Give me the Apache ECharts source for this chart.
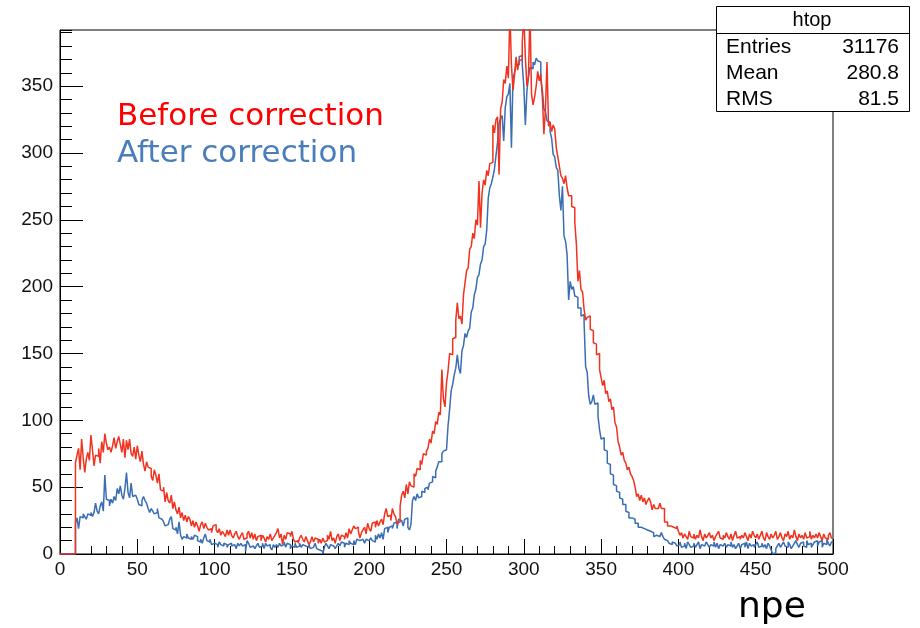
<!DOCTYPE html>
<html>
<head>
<meta charset="utf-8">
<script src="https://cdn.jsdelivr.net/npm/echarts@6/dist/echarts.min.js"></script>
<style>html,body{margin:0;padding:0;background:#fff}#c{width:920px;height:628px}</style>
</head>
<body>
<div id="c"></div>
<script>
// histogram: 500 bins of width 1 npe, bin i covers [i, i+1)
const binStart = 0;
const binWidth = 1;
const xTicks = [0, 50, 100, 150, 200, 250, 300, 350, 400, 450, 500];
const yTicks = [0, 50, 100, 150, 200, 250, 300, 350];
const statsLabels = ['Entries', 'Mean', 'RMS'];
const statsValues = ['31176', '280.8', '81.5'];
const histName = 'htop';

const beforeCorrection = [
  0,0,0,0,0,0,0,0,0,0,
  68,74,79,63,86,72,61,71,76,70,
  89,78,66,74,73,79,68,84,76,90,
  83,78,80,76,81,87,79,84,88,82,
  76,86,72,85,78,86,75,73,80,71,
  81,74,69,77,67,62,69,65,64,58,
  55,63,59,53,60,48,47,50,39,46,
  40,38,44,34,39,33,30,35,27,31,
  25,29,24,28,26,21,25,20,24,21,
  17,22,24,19,23,20,18,19,16,21,
  22,18,16,19,14,17,15,13,18,14,
  18,14,12,15,17,13,11,14,16,11,
  12,15,17,12,16,11,15,10,13,14,
  10,14,12,9,13,11,15,10,12,14,
  16,19,12,15,7,14,11,16,15,13,
  17,11,9,10,8,12,14,11,9,13,
  10,7,9,13,9,12,11,8,11,8,
  12,9,10,14,11,17,10,12,8,13,
  15,10,14,13,11,16,12,19,15,18,
  21,19,20,17,12,16,18,20,15,23,
  19,17,23,24,20,25,21,24,26,22,
  30,34,28,29,25,34,30,28,23,24,
  36,44,47,42,52,45,54,51,50,60,
  58,64,63,70,67,75,74,77,79,86,
  83,92,90,99,97,106,104,138,116,110,
  128,137,150,149,161,162,175,188,176,178,
  172,194,203,212,214,228,230,240,236,250,
  246,279,244,270,280,276,287,283,292,293,
  321,315,325,327,284,333,338,355,352,365,
  356,405,366,347,358,372,362,369,370,383,
  403,372,350,357,405,344,336,342,350,361,
  354,359,342,314,333,368,320,323,316,321,
  318,304,297,290,283,281,277,283,274,268,
  268,260,259,248,232,204,212,198,196,183,
  175,177,178,168,167,158,157,149,150,138,
  132,126,130,120,122,114,116,108,110,98,
  95,84,80,74,76,70,68,63,65,60,
  58,55,50,43,45,40,44,39,42,37,
  40,42,39,33,37,34,34,33,38,34,
  34,24,24,21,21,20,20,19,19,21,
  17,14,16,12,15,13,11,17,13,12,
  15,11,14,12,18,13,10,15,12,14,
  16,12,14,10,13,15,17,12,11,14,
  12,16,13,11,15,10,14,17,12,13,
  11,14,12,16,13,10,15,12,17,14,
  12,15,11,14,17,12,10,16,13,11,
  15,12,14,17,11,13,16,12,10,15,
  13,17,11,14,12,18,13,10,15,12,
  14,11,16,12,13,17,11,14,12,15,
  12,16,13,10,15,12,11,14,16,12
];

const afterCorrection = [
  0,0,0,0,0,0,0,0,0,0,
  23,27,19,28,27,30,28,26,30,29,
  31,28,31,38,32,30,36,39,32,59,
  41,40,36,41,38,43,40,49,45,51,
  44,41,49,61,46,42,53,43,44,45,
  41,37,36,40,43,40,38,34,31,34,
  32,30,31,34,27,26,27,24,21,22,
  22,26,28,19,18,20,15,24,14,11,
  13,12,15,12,11,13,11,14,13,10,
  9,11,8,12,15,10,9,11,7,8,
  9,7,5,9,7,6,8,7,5,7,
  8,6,7,7,4,8,6,8,6,7,
  2,10,8,5,6,7,4,6,8,5,
  6,8,4,8,6,7,5,3,7,5,
  7,5,8,6,7,9,5,8,7,4,
  6,5,8,5,6,8,5,7,6,7,
  5,7,4,5,6,8,4,3,4,2,
  0,5,8,6,4,7,6,5,4,6,
  8,6,9,8,5,8,7,10,8,7,
  10,7,11,10,9,11,12,8,11,10,
  11,12,10,9,14,11,15,12,16,11,
  19,20,16,20,21,19,23,24,19,26,
  25,24,21,26,27,20,18,22,40,43,
  40,45,42,43,47,46,49,50,48,53,
  54,58,57,62,65,69,69,75,77,78,
  79,96,108,122,127,134,139,149,139,135,
  152,156,165,162,167,169,181,184,194,198,
  207,209,217,220,230,232,242,266,274,277,
  282,288,298,308,322,326,328,309,334,342,
  344,352,304,356,360,366,366,372,373,366,
  350,321,346,357,364,363,368,366,371,369,
  368,355,347,333,331,324,323,316,311,299,
  297,289,287,268,257,275,238,234,224,190,
  204,198,200,193,192,184,184,178,179,173,
  140,136,118,112,114,119,112,113,103,93,
  86,87,78,77,68,67,60,59,52,51,
  47,46,42,41,37,37,32,31,27,27,
  26,26,23,23,20,20,19,19,18,18,
  17,17,16,16,13,14,13,13,14,16,
  13,11,10,9,8,7,9,8,7,6,
  7,9,5,6,8,4,9,7,5,6,
  8,5,7,9,4,7,6,5,9,7,
  5,7,6,9,5,8,4,7,6,5,
  8,5,7,6,9,5,7,4,6,8,
  4,7,8,5,9,4,8,6,7,5,
  7,9,5,6,8,5,7,4,8,6,
  3,0,1,4,6,8,5,7,9,6,
  5,9,7,4,6,8,10,7,5,8,
  9,6,5,10,7,8,5,7,9,10,
  6,9,10,5,8,7,11,8,6,9
];

function toSteps(vals) {
  const pts = vals.map((v, i) => [binStart + i * binWidth, v]);
  pts.push([binStart + vals.length * binWidth, vals[vals.length - 1]]);
  return pts;
}

const xMin = xTicks[0], xMax = xTicks[xTicks.length - 1];
const yMax = 392;
const labelFont = 'Liberation Sans';
const legendFont = '"DejaVu Sans"';

const chart = echarts.init(document.getElementById('c'), null, {renderer: 'canvas'});
chart.setOption({
  animation: false,
  backgroundColor: '#ffffff',
  grid: {left: 60, right: 87, top: 30, bottom: 74, show: true, borderColor: '#000', borderWidth: 1, backgroundColor: 'transparent'},
  xAxis: {
    type: 'value', min: xMin, max: xMax, interval: 50,
    axisLine: {show: true, lineStyle: {color: '#000', width: 1}},
    axisTick: {show: true, inside: true, length: 15, lineStyle: {color: '#000', width: 1}},
    minorTick: {show: true, splitNumber: 5, length: 8, lineStyle: {color: '#000', width: 1}},
    splitLine: {show: false},
    axisLabel: {color: '#111', fontFamily: labelFont, fontSize: 19, margin: 6,
      formatter: v => (xTicks.indexOf(v) >= 0 ? String(v) : '')}
  },
  yAxis: [{
    type: 'value', min: 0, max: yMax, interval: 50, position: 'left',
    axisLine: {show: true, lineStyle: {color: '#000', width: 1}},
    axisTick: {show: true, inside: true, length: 23, lineStyle: {color: '#000', width: 1}},
    minorTick: {show: false},
    splitLine: {show: false},
    axisLabel: {color: '#111', fontFamily: labelFont, fontSize: 19, margin: 7, showMaxLabel: false,
      formatter: v => (yTicks.indexOf(v) >= 0 ? String(v) : '')}
  }, {
    type: 'value', min: 0, max: yMax, interval: 10, position: 'left', offset: 0,
    axisLine: {show: false},
    axisTick: {show: true, inside: true, length: 12, lineStyle: {color: '#000', width: 1}},
    axisLabel: {show: false},
    splitLine: {show: false}
  }],
  series: [{
    name: 'After correction', type: 'line', step: 'end', yAxisIndex: 0,
    data: toSteps(afterCorrection), showSymbol: false, symbol: 'none', clip: true,
    lineStyle: {color: '#3a6db3', width: 1.5}, z: 2
  }, {
    name: 'Before correction', type: 'line', step: 'end', yAxisIndex: 0,
    data: toSteps(beforeCorrection), showSymbol: false, symbol: 'none', clip: true,
    lineStyle: {color: '#f0321e', width: 1.5}, z: 3
  }],
  graphic: [
    {type: 'text', z: 10, style: {text: 'Before correction', x: 117, y: 117, fill: '#ff0000', font: '31px ' + legendFont, verticalAlign: 'middle'}},
    {type: 'text', z: 10, style: {text: 'After correction', x: 117, y: 154, fill: '#4a7ebb', font: '31px ' + legendFont, verticalAlign: 'middle'}},
    {type: 'text', z: 10, style: {text: 'npe', x: 738, y: 608, fill: '#000', font: '36px ' + legendFont, verticalAlign: 'middle'}},
    {type: 'rect', z: 20, shape: {x: 716.5, y: 6.5, width: 193, height: 105}, style: {fill: '#fff', stroke: '#000', lineWidth: 1}},
    {type: 'line', z: 21, shape: {x1: 716.5, y1: 33.5, x2: 909.5, y2: 33.5}, style: {stroke: '#000', lineWidth: 1}},
    {type: 'text', z: 22, style: {text: histName, x: 812, y: 20, fill: '#000', font: '20px "Liberation Sans"', align: 'center', verticalAlign: 'middle'}},
    {type: 'text', z: 22, style: {text: statsLabels[0], x: 726, y: 47, fill: '#000', font: '21px "Liberation Sans"', verticalAlign: 'middle'}},
    {type: 'text', z: 22, style: {text: statsLabels[1], x: 726, y: 73, fill: '#000', font: '21px "Liberation Sans"', verticalAlign: 'middle'}},
    {type: 'text', z: 22, style: {text: statsLabels[2], x: 726, y: 99, fill: '#000', font: '21px "Liberation Sans"', verticalAlign: 'middle'}},
    {type: 'text', z: 22, style: {text: statsValues[0], x: 899, y: 47, fill: '#000', font: '21px "Liberation Sans"', align: 'right', verticalAlign: 'middle'}},
    {type: 'text', z: 22, style: {text: statsValues[1], x: 899, y: 73, fill: '#000', font: '21px "Liberation Sans"', align: 'right', verticalAlign: 'middle'}},
    {type: 'text', z: 22, style: {text: statsValues[2], x: 899, y: 99, fill: '#000', font: '21px "Liberation Sans"', align: 'right', verticalAlign: 'middle'}}
  ]
});
</script>
</body>
</html>
